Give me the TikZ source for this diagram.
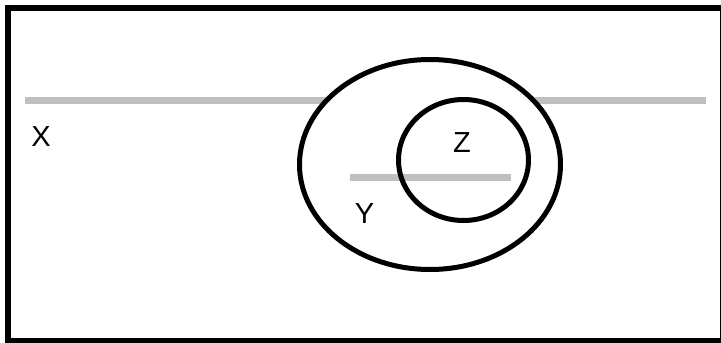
\documentclass[tikz,border=0pt]{standalone}
\usepackage{fontspec}
\setmainfont{Liberation Sans}
\usepackage{tikz}
\usetikzlibrary{positioning}

\begin{document}
\begin{tikzpicture}[x=1pt, y=-1pt,
    frame/.style={draw=black, line width=6pt},
    set/.style={draw=black, line width=5pt},
    cut/.style={draw=black!25, line width=7pt},
    setlabel/.style={inner sep=0pt, font=\fontsize{29}{29}\selectfont}]
    \useasboundingbox (0,0) rectangle (721,343);
    \draw[frame] (8,8) rectangle (723,341);
    % X line, then Y on top of it
    \coordinate (xa) at (25,100.5);
    \coordinate (xb) at (706,100.5);
    \draw[cut] (xa) -- (xb);
    \draw[set, fill=white] (430,164.5) ellipse [x radius=130.5, y radius=105];
    \coordinate (ya) at (350,177);
    \coordinate (yb) at (511,177);
    \draw[cut] (ya) -- (yb);
    \draw[set] (463.5,160) ellipse [x radius=65, y radius=60.5];
    \node[setlabel] (x) at (41,137) {X};
    \node[setlabel] (y) at (364.5,213.5) {Y};
    \node[setlabel] (z) at (462,142.5) {Z};
\end{tikzpicture}
\end{document}
